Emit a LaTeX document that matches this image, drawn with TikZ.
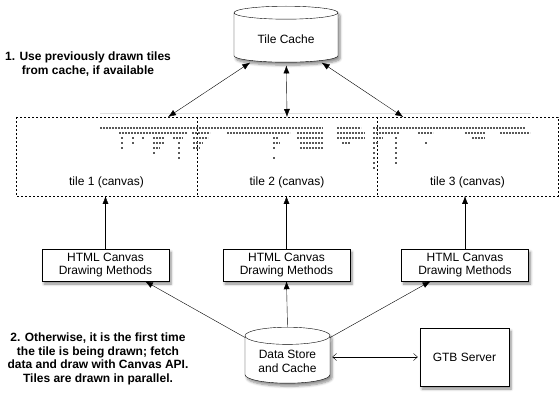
\documentclass[tikz,border=0pt]{standalone}
\usepackage{fontspec}
\setmainfont{Liberation Sans}
\usetikzlibrary{positioning, calc, shapes.geometric, shadows.blur, arrows.meta}
\tikzset{>={Latex[length=8pt, width=6pt]}}
\tikzset{
  shade/.style={blur shadow={shadow xshift=2pt, shadow yshift=-3pt, shadow blur steps=6, shadow opacity=45}},
  methodbox/.style={draw, fill=white, shade, minimum width=127pt, minimum height=32pt, align=center, inner sep=1pt},
  can/.style={cylinder, shape border rotate=90, draw, fill=white, shade, align=center, anchor=north},
  tilebox/.style={minimum width=181pt, minimum height=79pt, outer sep=0pt},
  tileline/.style={dash pattern=on 2pt off 2pt},
  note/.style={font=\bfseries, align=center},
  pixels/.style={black!65, line width=1.2pt, dash pattern=on 2pt off 1pt}
}

\begin{document}
\fontsize{12}{13.5}\selectfont
\begin{tikzpicture}[x=1pt, y=-1pt]
    \useasboundingbox (0,0) rectangle (560,401);
    \node[can, minimum width=104pt, minimum height=56pt, aspect=0.2] (cache) at (286,6) {Tile Cache};
    \node[tilebox, anchor=north west] (tile1) at (16,117) {};
    \node[tilebox, right=0pt of tile1, minimum width=180pt] (tile2) {};
    \node[tilebox, right=0pt of tile2] (tile3) {};
    \draw[tileline] (tile1.north west) rectangle (tile3.south east);
    \draw[tileline] (tile1.north east) -- (tile1.south east);
    \draw[tileline] (tile3.north west) -- (tile3.south west);
    \foreach \t in {1,2,3}
    \node[above=4pt of tile\t.south] {tile \t\ (canvas)};
    \draw[black!12] (100,113) -- (531,113);
    \foreach \y/\a/\b in {128/100/323, 128/337/361, 128/373/525,
      133/119/187, 133/192/210, 133/227/290, 133/297/323, 133/337/365, 133/373/400, 133/418/433, 133/465/485, 133/500/530,
      138/121/123, 138/132/134, 138/142/144, 138/153/165, 138/173/183, 138/193/208, 138/273/278, 138/297/323, 138/337/365, 138/373/383, 138/395/398, 138/472/485,
      143/121/123, 143/132/134, 143/153/165, 143/178/180, 143/193/203, 143/273/280, 143/300/323, 143/342/350, 143/373/378, 143/395/398, 143/425/427,
      148/121/123, 148/153/160, 148/178/180, 148/193/200, 148/273/275, 148/300/323, 148/373/376, 148/395/398,
      153/153/155, 153/178/180, 153/373/376, 153/395/398,
      158/178/180, 158/273/275, 158/373/376, 158/395/398,
      163/373/376, 163/395/398, 168/373/375}
    \draw[pixels] (\a,\y) -- (\b,\y);
    \node[methodbox] (draw1) at (105.5,265) {HTML Canvas\\Drawing Methods};
    \node[methodbox] (draw2) at (286.5,265) {HTML Canvas\\Drawing Methods};
    \node[methodbox] (draw3) at (465,265) {HTML Canvas\\Drawing Methods};
    \node[can, minimum width=85pt, minimum height=56pt, aspect=0.26] (store) at (287.5,327) {Data Store\\and Cache};
    \node[draw, fill=white, shade, minimum width=89pt, minimum height=58pt] (gtb) at (464.5,357) {GTB Server};
    \draw[<->, shorten <=3pt] (cache) -- ($(tile1.north)!0.68!(tile1.north east)$);
    \draw[<->, shorten <=3pt] (cache) -- (tile2.north);
    \draw[<->, shorten <=3pt] (cache) -- ($(tile3.north)!0.71!(tile3.north west)$);
    \foreach \t in {1,2,3}
    \draw[->] (draw\t.north) -- (draw\t.north |- tile\t.south);
    \draw[->] (store) -- ($(draw1.south)!0.62!(draw1.south east)$);
    \draw[->] (store.north) -- (draw2.south);
    \draw[->] (store) -- ($(draw3.south)!0.54!(draw3.south west)$);
    \draw[{Straight Barb[length=4pt, width=7pt]}-{Straight Barb[length=4pt, width=7pt]}, shorten <=2pt, shorten >=2pt] (store.east |- gtb.west) -- (gtb.west);
    \node[note] (hint1) at (88,64) {1. Use previously drawn tiles\\from cache, if available};
    \node[note] (hint2) at (98,359) {2. Otherwise, it is the first time\\the tile is being drawn; fetch\\data and draw with Canvas API.\\Tiles are drawn in parallel.};
\end{tikzpicture}
\end{document}
